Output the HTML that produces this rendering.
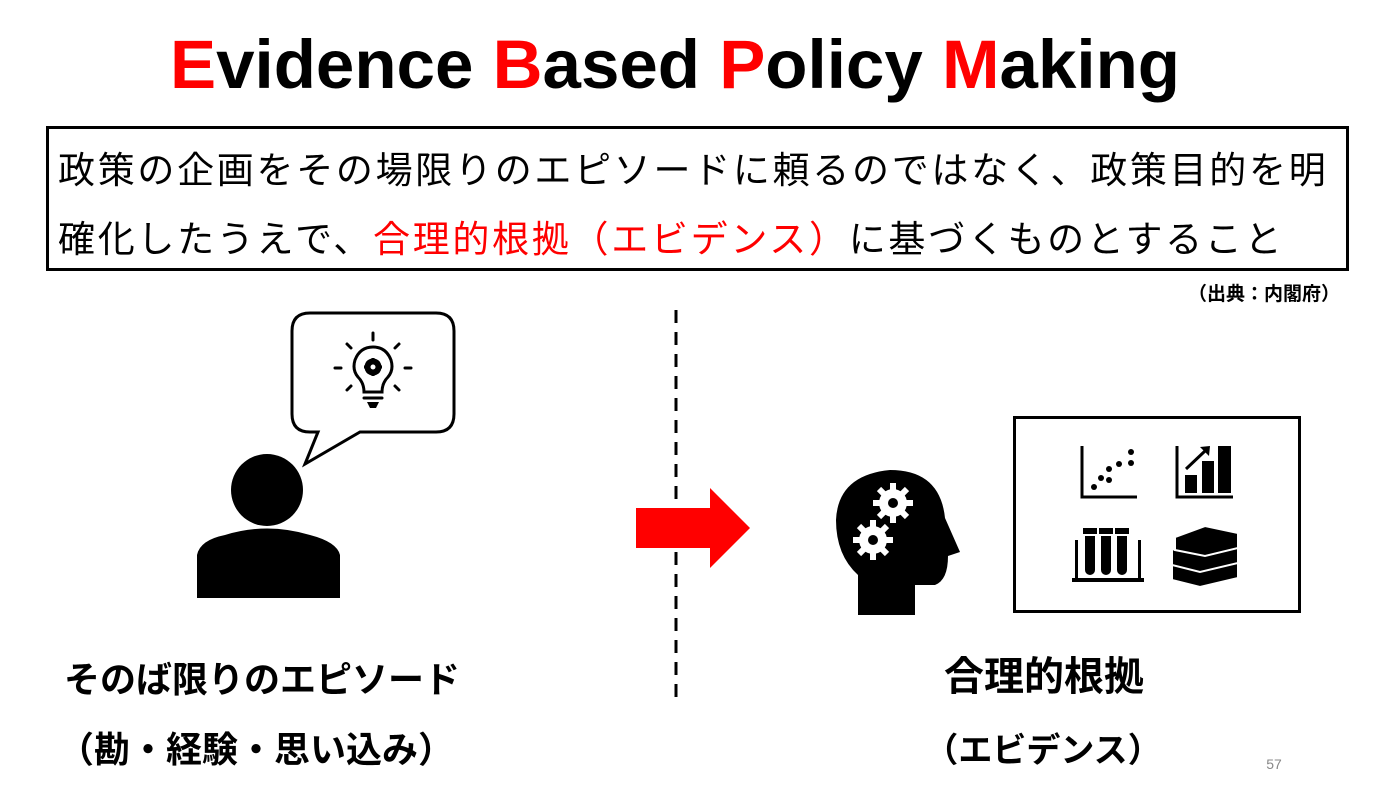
<!DOCTYPE html>
<html><head><meta charset="utf-8"><style>
html,body{margin:0;padding:0;background:#fff;}
svg{display:block}
.jp{font-family:"Liberation Sans","Noto Sans CJK JP",sans-serif;}
</style></head><body>
<svg width="1374" height="794" viewBox="0 0 1374 794" xmlns="http://www.w3.org/2000/svg">
<text x="675" y="88" text-anchor="middle" font-family="Liberation Sans, sans-serif" font-weight="bold" font-size="69" textLength="1010" lengthAdjust="spacingAndGlyphs"><tspan fill="#f00">E</tspan>vidence <tspan fill="#f00">B</tspan>ased <tspan fill="#f00">P</tspan>olicy <tspan fill="#f00">M</tspan>aking</text>
<rect x="47.5" y="127.5" width="1300" height="142" fill="none" stroke="#000" stroke-width="3"/>
<text class="jp" x="58" y="183" font-size="37" letter-spacing="2.7">政策の企画をその場限りのエピソードに頼るのではなく、政策目的を明</text>
<text class="jp" x="58" y="252" font-size="37" letter-spacing="2.7">確化したうえで、<tspan fill="#f00">合理的根拠（エビデンス）</tspan>に基づくものとすること</text>
<text class="jp" x="1340" y="300" text-anchor="end" font-size="19" font-weight="bold">（出典：内閣府）</text>
<line x1="676" y1="310" x2="676" y2="705" stroke="#000" stroke-width="3" stroke-dasharray="13 9"/>
<polygon points="636,508 710,508 710,488 750,528 710,568 710,548 636,548" fill="#f00"/>
<!-- person -->
<circle cx="267" cy="490" r="36" fill="#000"/>
<path d="M197,598 L197,555 Q200,540 225,535 Q267,522 310,535 Q337,542 340,555 L340,598 Z" fill="#000"/>
<path d="M310,313 L436,313 Q454,313 454,331 L454,414 Q454,432 436,432 L360,432 L305,464 L318,432 L310,432 Q292,432 292,414 L292,331 Q292,313 310,313 Z" fill="#fff" stroke="#000" stroke-width="3"/>
<g stroke="#000" stroke-width="3" fill="none" stroke-linecap="round">
<line x1="373" y1="333" x2="373" y2="340"/><line x1="335" y1="368" x2="341" y2="368"/><line x1="405" y1="368" x2="411" y2="368"/>
<line x1="347" y1="344" x2="351" y2="348"/><line x1="399" y1="344" x2="395" y2="348"/>
<line x1="347" y1="390" x2="351" y2="386"/><line x1="399" y1="390" x2="395" y2="386"/>
<path d="M364,392 Q364,383 358,377 Q352,370 355,360 Q360,347 373,347 Q386,347 391,360 Q394,370 388,377 Q382,383 382,392 Z"/>
<line x1="364" y1="398" x2="382" y2="398"/>
</g>
<circle cx="373" cy="367" r="6" fill="none" stroke="#000" stroke-width="5"/>
<g stroke="#000" stroke-width="3"><line x1="373" y1="358" x2="373" y2="376"/><line x1="364" y1="367" x2="382" y2="367"/><line x1="367" y1="361" x2="379" y2="373"/><line x1="379" y1="361" x2="367" y2="373"/></g>
<circle cx="373" cy="367" r="2.5" fill="#fff"/>
<path d="M367,402 L379,402 L376,408 L370,408 Z" fill="#000"/>
<!-- head -->
<path d="M858,615 L858,575 Q836,555 836,520 Q838,475 890,470 Q940,470 945,518 L960,552 L948,556 Q948,580 935,585 L915,585 L915,615 Z" fill="#000"/>
<g fill="#fff">
<circle cx="893" cy="503" r="14"/><circle cx="873" cy="540" r="14"/>
</g>
<g stroke="#fff" stroke-width="6">
<line x1="893" y1="483" x2="893" y2="523"/><line x1="873" y1="520" x2="873" y2="560"/>
<line x1="873" y1="503" x2="913" y2="503"/><line x1="853" y1="540" x2="893" y2="540"/>
<line x1="879" y1="489" x2="907" y2="517"/><line x1="907" y1="489" x2="879" y2="517"/>
<line x1="859" y1="526" x2="887" y2="554"/><line x1="887" y1="526" x2="859" y2="554"/>
</g>
<circle cx="893" cy="503" r="5" fill="#000"/><circle cx="873" cy="540" r="5" fill="#000"/>
<!-- panel -->
<rect x="1014.5" y="417.5" width="285" height="194" fill="none" stroke="#000" stroke-width="3"/>
<path d="M1082,446 L1082,497 L1137,497" fill="none" stroke="#000" stroke-width="3"/>
<g fill="#000"><circle cx="1094" cy="487" r="3"/><circle cx="1101" cy="478" r="3"/><circle cx="1109" cy="480" r="3"/><circle cx="1109" cy="469" r="3"/><circle cx="1119" cy="464" r="3"/><circle cx="1131" cy="463" r="3"/><circle cx="1131" cy="452" r="3"/></g>
<path d="M1177,446 L1177,497 L1233,497" fill="none" stroke="#000" stroke-width="3"/>
<g fill="#000"><rect x="1185" y="475" width="12" height="18"/><rect x="1202" y="461" width="12" height="32"/><rect x="1218" y="446" width="13" height="47"/></g>
<line x1="1186" y1="469" x2="1205" y2="451" stroke="#000" stroke-width="3"/><polygon points="1200,447 1210,446 1209,456" fill="#000"/>
<g fill="#000"><rect x="1072" y="578" width="72" height="4"/><rect x="1075" y="540" width="3" height="40"/><rect x="1138" y="540" width="3" height="40"/>
<rect x="1083" y="528" width="14" height="6"/><rect x="1099" y="528" width="14" height="6"/><rect x="1115" y="528" width="14" height="6"/>
<path d="M1085,536 h10 v34 a5,5 0 0 1 -10,0 z"/><path d="M1101,536 h10 v34 a5,5 0 0 1 -10,0 z"/><path d="M1117,536 h10 v34 a5,5 0 0 1 -10,0 z"/></g>
<g fill="#000" stroke="#fff" stroke-width="2">
<path d="M1172,565 L1200,553 L1238,560 L1238,578 L1200,587 L1172,580 Z"/>
<path d="M1172,550 L1200,539 L1238,546 L1238,563 L1200,572 L1172,565 Z"/>
<path d="M1175,537 L1205,526 L1238,533 L1238,548 L1205,556 L1175,550 Z"/>
</g>
<g class="jp" font-weight="bold" text-anchor="middle">
<text x="262" y="692" font-size="36">そのば限りのエピソード</text>
<text x="256" y="762" font-size="36">（勘・経験・思い込み）</text>
<text x="1044" y="690" font-size="40">合理的根拠</text>
<text x="1043" y="762" font-size="34">（エビデンス）</text>
</g>
<text x="1274" y="769" font-family="Liberation Sans, sans-serif" font-size="14" fill="#888" text-anchor="middle">57</text>
</svg>
</body></html>
